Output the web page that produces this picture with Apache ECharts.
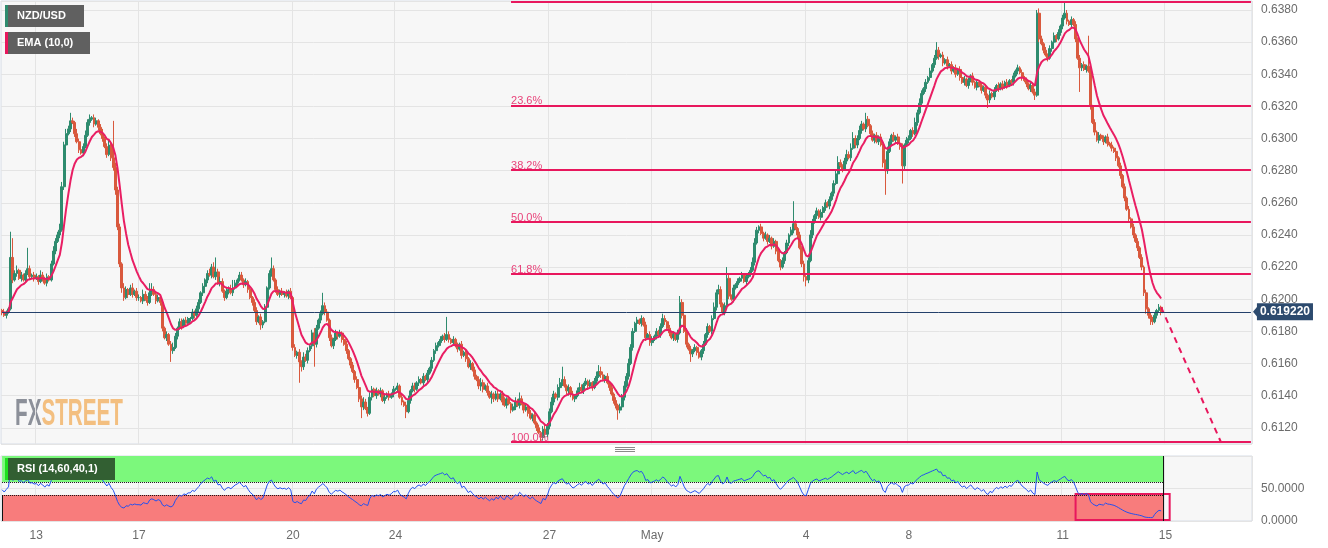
<!DOCTYPE html>
<html><head><meta charset="utf-8">
<script src="https://cdn.jsdelivr.net/npm/echarts@6/dist/echarts.min.js"></script>
<style>html,body{margin:0;padding:0;background:#fff}#c{width:1328px;height:548px}</style>
</head><body><div id="c"></div>
<script>
// ---------- time axis ----------
const tradingDays = ['Apr 12','Apr 13','Apr 14','Apr 17','Apr 18','Apr 19','Apr 20','Apr 21','Apr 24','Apr 25','Apr 26','Apr 27','Apr 28','May 1','May 2','May 3','May 4','May 5','May 8','May 9','May 10','May 11','May 12','May 15','May 16'];
const firstHour = 8;
const slotCount = 585;
const tickDays = ['Apr 13','Apr 17','Apr 20','Apr 24','Apr 27','May 1','May 4','May 8','May 11','May 15'];
const tickLabels = ['13','17','20','24','27','May','4','8','11','15'];

// ---------- hourly closes (pips, 0.xxxx * 10000) ----------
const firstOpen = 6193;
const closeWk1 = [
6192,6190,6192,6194,6226,6212,6216,6218,6213,6215,6212,6216,6219,6214,6215,6213,
6214,6211,6215,6213,6210,6214,6212,6222,6230,6236,6240,6243,6270,6296,6303,6306,6311,6310,6303,6298,6293,6291,6295,6302,
6310,6312,6313,6309,6311,6307,6303,6300,6295,6290,6296,6288,6282,6268,6245,6222,6207,6201,6206,6203,6207,6203,6205,6201];
const closeWk2 = [
6201,6199,6203,6200,6198,6204,6206,6203,6199,6201,6198,6182,6176,6178,6172,6168,6170,6177,6182,6186,6183,6187,6185,6188,
6188,6192,6190,6194,6198,6204,6208,6212,6216,6215,6220,6214,6217,6210,6211,6205,6201,6205,6206,6204,6207,6210,6212,6215,
6212,6209,6211,6206,6201,6198,6193,6186,6189,6184,6186,6195,6207,6216,6219,6212,6206,6203,6205,6203,6204,6202,6205,6201,
6170,6165,6167,6161,6158,6164,6162,6168,6171,6179,6172,6182,6187,6191,6196,6192,6187,6176,6171,6175,6179,6177,6179,6175,
6172,6168,6163,6159,6155,6150,6145,6138,6133,6136,6132,6129,6139,6144,6140,6143,6141,6143,6137,6139,6141,6139,6141,6144];
const closeWk3 = [
6144,6146,6139,6136,6134,6130,6137,6143,6146,6144,6148,6150,6148,6152,6150,6154,6157,6162,6168,6171,6173,6175,6177,6175,
6178,6175,6173,6175,6171,6169,6172,6165,6167,6163,6158,6160,6156,6152,6150,6146,6148,6144,6146,6142,6139,6141,6138,6141,
6138,6141,6136,6134,6138,6135,6131,6133,6136,6134,6138,6135,6131,6133,6129,6126,6128,6123,6120,6117,6114,6119,6116,6121,
6130,6136,6141,6139,6145,6148,6150,6146,6143,6145,6141,6138,6140,6143,6145,6143,6147,6149,6146,6148,6145,6149,6152,6155,
6153,6150,6152,6148,6145,6141,6137,6134,6131,6133,6139,6146,6152,6160,6170,6180,6185,6187,6185,6188,6184,6176,6178,6173];
const closeWk4 = [
6175,6177,6180,6178,6183,6188,6186,6182,6179,6176,6178,6175,6179,6198,6190,6180,6172,6169,6166,6168,6170,6167,6164,6168,
6172,6178,6183,6180,6188,6195,6204,6206,6197,6192,6196,6213,6202,6200,6207,6209,6211,6213,6215,6211,6214,6216,6218,6223,
6235,6243,6245,6241,6238,6240,6236,6238,6233,6236,6230,6224,6220,6224,6229,6235,6240,6243,6247,6244,6240,6232,6222,6214,
6212,6224,6240,6248,6252,6255,6251,6254,6257,6260,6258,6262,6266,6272,6278,6285,6283,6281,6286,6290,6288,6294,6300,6296,
6300,6305,6309,6306,6312,6308,6303,6299,6302,6298,6301,6296,6285,6280,6292,6298,6302,6299,6301,6297,6295,6283,6296,6299];
const closeWk5 = [
6300,6305,6303,6310,6316,6322,6328,6331,6335,6338,6342,6346,6350,6355,6351,6352,6347,6349,6345,6346,6342,6344,6340,6343,
6338,6335,6337,6333,6336,6339,6335,6332,6335,6333,6330,6332,6327,6324,6328,6326,6330,6333,6331,6334,6332,6335,6333,6336,
6335,6339,6342,6344,6341,6338,6336,6334,6331,6333,6329,6327,6378,6362,6359,6355,6352,6350,6356,6360,6364,6362,6366,6370,
6375,6378,6373,6371,6374,6371,6362,6350,6344,6346,6343,6345,6342,6320,6310,6304,6299,6302,6300,6298,6301,6297,6296,6294,
6292,6288,6283,6277,6270,6263,6256,6250,6245,6240,6236,6232,6226,6220,6204,6194,6190,6188,6186,6190,6193,6195,6192];

// ---------- wick lengths (pips) ----------
const upWk1 = [1,2,1,1,16,12,2,3,1,2,1,2,13,2,1,2, 2,1,3,2,1,2,1,2,3,2,2,4,3,2,3,2,5,2,1,3,2,1,2,3, 2,3,1,2,2,1,2,3,1,2,3,2,23,3,2,2,1,3,2,1,2,3,1,2];
const upWk2 = [2,1,3,2,2,6,4,2,1,2,1,2,1,2,1,2,3,2,1,2,2,1,2,1, 1,2,1,2,2,1,2,1,2,3,2,3,9,2,3,2,1,2,2,3,5,2,1,2, 2,1,2,1,2,1,2,2,1,2,1,2,1,2,7,2,1,2,1,2,1,2,1,2, 1,2,1,2,1,3,2,2,1,2,3,2,1,2,8,2,2,1,2,1,2,1,2,1, 1,2,1,1,2,1,2,1,2,3,2,1,3,2,1,2,1,2,1,2,1,2,1,2];
const upWk3 = [1,2,1,2,1,2,3,1,2,2,1,2,1,2,1,2,1,2,1,2,1,2,1,2, 11,2,1,2,1,2,1,2,1,2,1,2,1,2,1,2,3,2,1,2,1,2,1,2, 2,1,2,3,1,2,1,2,3,2,4,2,1,2,1,2,1,2,1,2,1,2,3,2, 2,3,2,1,2,3,8,2,1,2,1,2,1,2,3,2,1,2,1,2,1,2,3,4, 3,2,1,2,1,2,1,2,1,2,2,3,2,3,2,2,1,2,1,2,1,2,1,2];
const upWk4 = [2,1,2,1,2,3,2,1,2,1,2,1,2,4,2,1,2,1,2,1,2,1,2,1, 2,1,2,1,2,3,2,3,2,1,2,7,2,1,2,1,2,1,2,1,2,1,2,3, 3,2,1,2,1,2,1,2,1,2,1,2,1,2,1,2,1,2,14,2,1,2,1,2, 1,2,3,2,1,2,1,2,1,2,1,2,1,2,3,4,2,1,2,3,2,3,4,2, 2,3,2,1,4,2,1,2,1,2,1,2,1,2,3,2,1,2,1,2,1,2,1,2];
const upWk5 = [2,1,2,3,2,3,2,1,2,1,2,1,2,5,2,1,2,1,2,1,2,1,2,1, 2,1,2,1,2,1,2,1,2,1,2,1,2,1,2,1,2,1,2,1,2,1,2,1, 1,2,1,2,1,2,1,2,1,2,1,2,2,3,2,1,2,1,2,1,2,1,2,1, 2,7,2,1,2,1,2,1,2,1,2,1,19,2,1,2,1,2,1,2,1,2,1,2, 1,2,1,2,1,2,1,2,1,2,1,2,1,2,1,2,1,2,1,2,1,2,1];
const dnWk1 = [2,1,2,1,1,2,1,2,1,2,1,2,1,2,1,2, 1,2,1,2,1,2,1,1,1,2,1,2,1,2,2,1,2,1,2,1,2,1,2,1, 1,2,1,2,1,2,1,2,1,2,1,2,2,3,2,2,3,2,1,2,1,2,1,2];
const dnWk2 = [2,1,2,1,2,1,2,1,2,1,2,2,1,2,1,7,2,1,2,1,2,1,2,1, 2,1,2,1,2,1,2,1,2,1,2,1,2,1,2,1,2,1,2,1,2,1,2,1, 1,2,1,2,1,2,1,2,1,3,2,1,2,1,2,1,2,1,2,1,2,1,2,1, 2,1,2,13,3,2,1,2,1,2,14,2,1,2,1,2,1,2,1,2,1,2,1,2, 1,2,1,2,1,2,1,2,7,2,1,2,1,2,1,2,1,2,1,2,1,2,1,2];
const dnWk3 = [1,2,1,2,1,4,1,2,1,2,1,2,1,2,1,2,1,2,1,2,1,2,1,2, 1,2,1,2,1,2,1,2,1,2,1,2,1,2,1,2,3,2,1,2,1,4,2,1, 2,1,2,1,2,1,2,1,2,1,2,1,2,1,2,1,2,1,2,1,3,2,1,2, 2,1,2,1,2,1,2,1,2,3,2,1,2,1,2,1,2,1,2,1,2,1,2,1, 2,1,2,1,2,1,2,2,6,2,1,2,1,2,1,2,1,2,1,2,1,2,1,2];
const dnWk4 = [2,1,2,1,2,1,2,1,2,1,2,1,2,1,2,1,2,1,5,2,1,2,1,2, 2,1,2,1,2,1,2,1,2,1,2,1,2,1,2,1,2,1,2,1,2,1,2,1, 2,1,2,1,2,1,2,1,2,1,2,1,2,1,2,1,2,1,2,1,2,1,2,3, 4,2,1,2,1,2,1,2,1,2,1,2,1,2,1,2,1,2,1,2,1,2,1,2, 2,1,2,1,2,1,2,1,2,1,2,1,3,15,2,1,2,1,2,1,2,11,2,1];
const dnWk5 = [2,1,2,1,2,1,2,1,2,1,2,1,2,1,2,1,2,1,2,1,2,1,2,1, 2,1,2,1,2,1,2,1,2,1,2,1,2,5,2,1,2,1,2,1,2,1,2,1, 1,2,1,2,1,2,1,2,1,2,1,3,1,2,1,2,1,2,1,2,1,2,1,2, 2,1,2,1,2,1,2,1,15,2,1,2,1,2,1,2,1,2,1,2,1,2,1,2, 1,2,1,2,1,2,1,2,1,2,1,2,1,2,2,3,2,4,2,1,2,1,2];

// ---------- levels ----------
const fibHigh = 0.6385, fibLow = 0.6111;
const fibRatios = [0, 0.236, 0.382, 0.5, 0.618, 1];
const fibLabels = ['', '23.6%', '38.2%', '50.0%', '61.8%', '100.0%'];
const fibStartIdx = 238;
const lastPrice = 0.61922;
const projIdx = [542, 570];
const projVal = [0.6195, 0.6111];
const priceMin = 0.61099, priceMax = 0.63856;
const emaPeriod = 10, rsiPeriod = 14, rsiUpper = 60, rsiLower = 40;
const rsiBoxIdx = [502, 546], rsiBoxVal = [41.5, 1.5];

// ---------- build ----------
const categories = [];
tradingDays.forEach((d, k) => {
  for (let h = (k === 0 ? firstHour : 0); h < 24; h++) {
    if (categories.length < slotCount) categories.push(d + ' ' + String(h).padStart(2, '0') + ':00');
  }
});
const tickMap = {};
tickDays.forEach((d, k) => { tickMap[d + ' 00:00'] = tickLabels[k]; });
const isTick = (v) => tickMap[v] !== undefined;

const closeP = [].concat(closeWk1, closeWk2, closeWk3, closeWk4, closeWk5);
const upW = [].concat(upWk1, upWk2, upWk3, upWk4, upWk5);
const dnW = [].concat(dnWk1, dnWk2, dnWk3, dnWk4, dnWk5);
const n = closeP.length;
const candles = [], ema = [], rsi = [];
let e = closeP[0];
let ag = 1, al = 1;
for (let i = 0; i < n; i++) {
  const o = i === 0 ? firstOpen : closeP[i - 1];
  const c = closeP[i];
  const h = Math.max(o, c) + (upW[i] || 0);
  const l = Math.min(o, c) - (dnW[i] || 0);
  candles.push([o / 1e4, c / 1e4, l / 1e4, h / 1e4]);
  e = i === 0 ? c : c * 2 / (emaPeriod + 1) + e * (1 - 2 / (emaPeriod + 1));
  ema.push(+(e / 1e4).toFixed(6));
  const d = c - o;
  ag = (ag * (rsiPeriod - 1) + Math.max(d, 0)) / rsiPeriod;
  al = (al * (rsiPeriod - 1) + Math.max(-d, 0)) / rsiPeriod;
  rsi.push(+(100 - 100 / (1 + ag / al)).toFixed(2));
}
const rsiEnd = n;

const PINK = '#e8175d';
const GREEN = '#2e8b6e', RED = '#d9593d';
const FONT = '"Liberation Sans", Arial, sans-serif';

const fibLines = fibRatios.map((r, k) => {
  const v = +(fibHigh - (fibHigh - fibLow) * r).toFixed(6);
  return [
    { coord: [categories[fibStartIdx], v],
      label: { show: fibLabels[k] !== '', formatter: fibLabels[k], position: 'insideStartTop', color: '#e8437a', fontSize: 11, fontFamily: FONT, distance: [0, -1] } },
    { coord: [categories[slotCount - 1], v] }
  ];
});
const lastPriceLine = [
  { coord: [categories[0], lastPrice] },
  { coord: [categories[slotCount - 1], lastPrice],
    label: { show: true, position: 'end', formatter: lastPrice.toFixed(6), color: '#fff', fontWeight: 'bold', fontSize: 12, fontFamily: FONT,
             backgroundColor: '#2c4a6e', padding: [3, 3, 2, 3], distance: 6 } }
];

const chart = echarts.init(document.getElementById('c'), null, { renderer: 'canvas' });

// watermark measurement
const ctx = document.createElement('canvas').getContext('2d');
const wmFont = 'bold 36px "Liberation Sans Narrow", "Liberation Sans", Arial, sans-serif';
ctx.font = wmFont;
const wFX = ctx.measureText('FX').width, wAll = ctx.measureText('FXSTREET').width;
const wmScale = 108 / wAll;

const option = {
  animation: false,
  backgroundColor: '#ffffff',
  grid: [
    { left: 1, right: 76, top: 1, height: 443, show: true, backgroundColor: '#f7f7f7', borderColor: '#d6dce6', borderWidth: 1 },
    { left: 1, right: 76, top: 456, height: 65, show: true, backgroundColor: '#f7f7f7', borderColor: '#d6dce6', borderWidth: 1 }
  ],
  xAxis: [
    { type: 'category', gridIndex: 0, data: categories, boundaryGap: true,
      axisLine: { show: false }, axisTick: { show: false }, axisLabel: { show: false },
      splitLine: { show: true, interval: (i, v) => isTick(v), lineStyle: { color: '#e4e4e4', width: 1 } } },
    { type: 'category', gridIndex: 1, data: categories, boundaryGap: true,
      axisLine: { show: false }, axisTick: { show: false },
      axisLabel: { show: true, interval: (i, v) => isTick(v), formatter: (v) => tickMap[v] || '', color: '#6b6b6b', fontSize: 12, fontFamily: FONT, margin: 9 },
      splitLine: { show: true, interval: (i, v) => isTick(v), lineStyle: { color: '#e4e4e4', width: 1 } } }
  ],
  yAxis: [
    { type: 'value', gridIndex: 0, position: 'right', min: priceMin, max: priceMax, splitNumber: 14, scale: true,
      axisLine: { show: false }, axisTick: { show: false },
      axisLabel: { formatter: (v) => v.toFixed(4), color: '#6b6b6b', fontSize: 12, fontFamily: FONT, margin: 9, showMinLabel: false, showMaxLabel: false },
      splitLine: { lineStyle: { color: '#e4e4e4', width: 1 } } },
    { type: 'value', gridIndex: 1, position: 'right', min: 0, max: 100, interval: 50,
      axisLine: { show: false }, axisTick: { show: false },
      axisLabel: { formatter: (v) => v.toFixed(4), color: '#6b6b6b', fontSize: 12, fontFamily: FONT, margin: 9, showMaxLabel: false },
      splitLine: { lineStyle: { color: '#e4e4e4', width: 1 } } }
  ],
  series: [
    { name: 'NZD/USD', type: 'candlestick', xAxisIndex: 0, yAxisIndex: 0, data: candles, barWidth: 2.4,
      itemStyle: { color: GREEN, color0: RED, borderColor: GREEN, borderColor0: RED, borderWidth: 1 },
      markLine: { silent: true, symbol: ['none', 'none'], animation: false,
        data: fibLines,
        lineStyle: { color: PINK, width: 2, type: 'solid' } } },
    { name: 'EMA (10,0)', type: 'line', xAxisIndex: 0, yAxisIndex: 0, data: ema, showSymbol: false, symbol: 'none',
      lineStyle: { color: '#e91e63', width: 2 }, z: 3,
      markLine: { silent: true, symbol: ['none', 'none'], animation: false,
        data: [lastPriceLine],
        lineStyle: { color: '#24406b', width: 1, type: 'solid' } } },
    { name: 'proj', type: 'line', xAxisIndex: 0, yAxisIndex: 0, symbol: 'none',
      data: [[categories[projIdx[0]], projVal[0]], [categories[projIdx[1]], projVal[1]]],
      lineStyle: { color: PINK, width: 2, type: [6, 5] }, z: 4 },
    { name: 'RSI', type: 'line', xAxisIndex: 1, yAxisIndex: 1, data: rsi, showSymbol: false, symbol: 'none',
      lineStyle: { color: '#2350f0', width: 1 }, z: 5,
      markArea: { silent: true,
        data: [
          [{ coord: [categories[0], rsiUpper], itemStyle: { color: '#7cf87c' } }, { coord: [categories[rsiEnd], 100] }],
          [{ coord: [categories[0], 0], itemStyle: { color: '#f87c7c' } }, { coord: [categories[rsiEnd], rsiLower] }],
          [{ coord: [categories[rsiBoxIdx[0]], rsiBoxVal[0]], itemStyle: { color: 'rgba(0,0,0,0)', borderColor: PINK, borderWidth: 2 } },
           { coord: [categories[rsiBoxIdx[1]], rsiBoxVal[1]] }]
        ] },
      markLine: { silent: true, symbol: ['none', 'none'],
        label: { show: false },
        data: [
          [{ coord: [categories[0], rsiUpper] }, { coord: [categories[rsiEnd], rsiUpper] }],
          [{ coord: [categories[0], rsiLower] }, { coord: [categories[rsiEnd], rsiLower] }],
          [{ coord: [categories[rsiEnd], 0], lineStyle: { type: 'solid' } }, { coord: [categories[rsiEnd], 100] }],
          [{ coord: [categories[0], 0], lineStyle: { type: 'solid' } }, { coord: [categories[0], rsiLower] }]
        ],
        lineStyle: { color: '#111', width: 1, type: 'dotted' } } }
  ],
  graphic: [
    { type: 'group', left: 15, top: 397, z: 0, scaleX: wmScale, children: [
      { type: 'text', x: 0, y: 0, style: { text: 'FX', font: wmFont, fill: '#8c9099', textVerticalAlign: 'top' } },
      { type: 'text', x: wFX, y: 0, style: { text: 'STREET', font: wmFont, fill: '#f3bf80', textVerticalAlign: 'top' } }
    ] },
    { type: 'rect', left: 5, top: 5, z: 100, shape: { width: 79, height: 22 }, style: { fill: '#606060' } },
    { type: 'rect', left: 5, top: 5, z: 101, shape: { width: 3, height: 22 }, style: { fill: GREEN } },
    { type: 'text', left: 17, top: 10, z: 102, style: { text: 'NZD/USD', fill: '#fff', font: 'bold 11px ' + FONT } },
    { type: 'rect', left: 5, top: 32, z: 100, shape: { width: 85, height: 22 }, style: { fill: '#606060' } },
    { type: 'rect', left: 5, top: 32, z: 101, shape: { width: 3, height: 22 }, style: { fill: PINK } },
    { type: 'text', left: 17, top: 37, z: 102, style: { text: 'EMA (10,0)', fill: '#fff', font: 'bold 11px ' + FONT } },
    { type: 'rect', left: 5, top: 458, z: 100, shape: { width: 110, height: 22 }, style: { fill: '#325f32' } },
    { type: 'rect', left: 5, top: 458, z: 101, shape: { width: 3, height: 22 }, style: { fill: '#1fe01f' } },
    { type: 'text', left: 17, top: 463, z: 102, style: { text: 'RSI (14,60,40,1)', fill: '#fff', font: 'bold 11px ' + FONT } },
    { type: 'line', z: 50, shape: { x1: 615, y1: 447.5, x2: 635, y2: 447.5 }, style: { stroke: '#8a8a8a', lineWidth: 1 } },
    { type: 'line', z: 50, shape: { x1: 615, y1: 449.5, x2: 635, y2: 449.5 }, style: { stroke: '#8a8a8a', lineWidth: 1 } },
    { type: 'line', z: 50, shape: { x1: 615, y1: 451.5, x2: 635, y2: 451.5 }, style: { stroke: '#8a8a8a', lineWidth: 1 } }
  ]
};
chart.setOption(option);

// small pointer of the last-price tag
const py = chart.convertToPixel({ yAxisIndex: 0 }, lastPrice);
chart.setOption({ graphic: option.graphic.concat([
  { type: 'polygon', z: 120, shape: { points: [[1253, py], [1258, py - 6], [1258, py + 6]] }, style: { fill: '#2c4a6e' } }
]) });
</script></body></html>
